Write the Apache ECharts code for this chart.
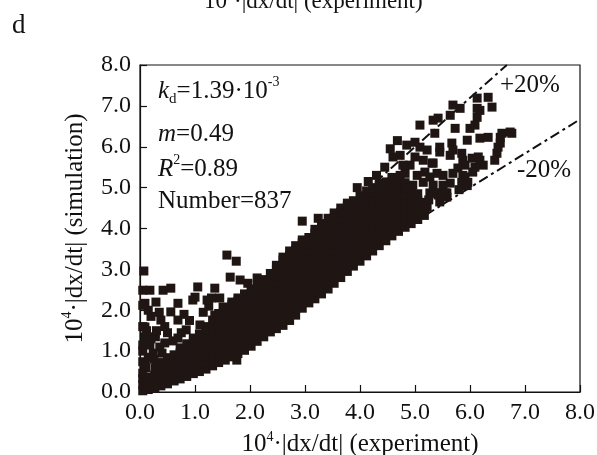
<!DOCTYPE html>
<html><head><meta charset="utf-8">
<script src="https://cdn.jsdelivr.net/npm/echarts@6/dist/echarts.min.js"></script>
<style>html,body{margin:0;padding:0;background:#fff}#c{width:597px;height:455px}</style>
</head><body><div id="c"></div><script>
// ---- data (10^4 |dx/dt|) ----
var xTicks = ['0.0','1.0','2.0','3.0','4.0','5.0','6.0','7.0','8.0'];
var yTicks = ['0.0','1.0','2.0','3.0','4.0','5.0','6.0','7.0','8.0'];

// dense core of the cloud: experiment value per column and simulated values in that column
var coreExp = [0.05,0.15,0.27,0.38,0.5,0.62,0.73,0.85,0.97,1.08,1.2,1.32,1.43,1.55,1.67,1.78,1.9,2.02,2.13,2.25,2.37,2.48,2.6,2.72,2.83,2.95,3.07,3.18,3.3,3.42,3.53,3.65,3.77,3.88,4.0,4.12,4.23,4.35,4.47,4.58,4.7,4.82,4.93,5.05,5.17];
var coreSim = [
 [0.03,0.18,0.33],
 [0.06,0.21,0.37],
 [0.1,0.26,0.42,0.58],
 [0.15,0.3,0.46,0.62,0.72],
 [0.2,0.36,0.52,0.68,0.84],
 [0.27,0.43,0.59,0.75,0.91],
 [0.32,0.48,0.64,0.8,0.96,1.08],
 [0.38,0.54,0.7,0.86,1.02,1.18],
 [0.45,0.61,0.77,0.93,1.09,1.25,1.32],
 [0.5,0.66,0.82,0.98,1.14,1.3,1.42],
 [0.56,0.72,0.88,1.04,1.2,1.36,1.52,1.6],
 [0.64,0.8,0.96,1.12,1.28,1.44,1.6,1.76],
 [0.72,0.88,1.04,1.2,1.36,1.52,1.68,1.84,1.92],
 [0.78,0.94,1.1,1.26,1.42,1.58,1.74,1.9,2.06],
 [0.86,1.02,1.18,1.34,1.5,1.66,1.82,1.98,2.14,2.2],
 [0.94,1.1,1.26,1.42,1.58,1.74,1.9,2.06,2.22,2.3],
 [1.02,1.18,1.34,1.5,1.66,1.82,1.98,2.14,2.3,2.4],
 [1.12,1.28,1.44,1.6,1.76,1.92,2.08,2.24,2.4,2.52],
 [1.24,1.4,1.56,1.72,1.88,2.04,2.2,2.36,2.52,2.62],
 [1.35,1.51,1.67,1.83,1.99,2.15,2.31,2.47,2.63,2.75],
 [1.47,1.63,1.79,1.95,2.11,2.27,2.43,2.59,2.75,2.9],
 [1.55,1.71,1.87,2.03,2.19,2.35,2.51,2.67,2.83,2.99,3.1],
 [1.63,1.79,1.95,2.11,2.27,2.43,2.59,2.75,2.91,3.07,3.23,3.3],
 [1.75,1.91,2.07,2.23,2.39,2.55,2.71,2.87,3.03,3.19,3.35,3.45],
 [1.88,2.04,2.2,2.36,2.52,2.68,2.84,3.0,3.16,3.32,3.48,3.58],
 [2.05,2.21,2.37,2.53,2.69,2.85,3.01,3.17,3.33,3.49,3.65,3.72],
 [2.18,2.34,2.5,2.66,2.82,2.98,3.14,3.3,3.46,3.62,3.78],
 [2.28,2.44,2.6,2.76,2.92,3.08,3.24,3.4,3.56,3.72,3.88,3.98],
 [2.4,2.56,2.72,2.88,3.04,3.2,3.36,3.52,3.68,3.84,4.0,4.12],
 [2.52,2.68,2.84,3.0,3.16,3.32,3.48,3.64,3.8,3.96,4.12,4.25],
 [2.66,2.82,2.98,3.14,3.3,3.46,3.62,3.78,3.94,4.1,4.26,4.38],
 [2.8,2.96,3.12,3.28,3.44,3.6,3.76,3.92,4.08,4.24,4.4,4.5],
 [2.95,3.11,3.27,3.43,3.59,3.75,3.91,4.07,4.23,4.39,4.55,4.62],
 [3.08,3.24,3.4,3.56,3.72,3.88,4.04,4.2,4.36,4.52,4.68],
 [3.2,3.36,3.52,3.68,3.84,4.0,4.16,4.32,4.48,4.64,4.8],
 [3.33,3.49,3.65,3.81,3.97,4.13,4.29,4.45,4.61,4.77,4.92],
 [3.45,3.61,3.77,3.93,4.09,4.25,4.41,4.57,4.73,4.89,5.0],
 [3.58,3.74,3.9,4.06,4.22,4.38,4.54,4.7,4.86,5.02,5.1],
 [3.7,3.86,4.02,4.18,4.34,4.5,4.66,4.82,4.98,5.14],
 [3.82,3.98,4.14,4.3,4.46,4.62,4.78,4.94,5.1,5.25],
 [3.93,4.09,4.25,4.41,4.57,4.73,4.89,5.05,5.2],
 [4.03,4.19,4.35,4.51,4.67,4.83,4.99,5.12],
 [4.12,4.28,4.44,4.6,4.76,4.92],
 [4.22,4.38,4.54,4.7,4.85],
 [4.32,4.48,4.64]
];

// scattered points over-predicted at low rates (left side)
var lowScatter = [[0.07,2.96],[0.05,2.49],[0.18,2.49],[0.42,2.49],[0.56,2.54],[1.05,2.57],[1.36,2.54],
 [0.09,2.17],[0.29,2.2],[0.69,2.17],[0.96,2.25],[1.0,2.32],[0.56,1.96],[0.05,2.12],[0.05,1.6],[0.09,1.59],
 [0.38,1.76],[0.69,1.76],[0.05,1.15],[0.18,1.15],[0.36,1.1],[0.24,0.95],[0.69,1.32],[0.84,1.52],[1.09,1.64],
 [0.96,1.08],[0.05,0.74],[0.09,0.71],[0.05,0.46],[1.76,0.78],[1.58,3.35],[1.75,3.2],[1.64,2.81],[1.82,2.74],
 [1.96,2.66],[2.13,2.79],[2.95,4.18],[3.24,4.25],[0.2,1.85],[0.15,2.0],[0.5,1.45],[0.28,1.35],[0.1,1.35],
 [0.15,0.85],[0.3,0.6],[0.05,1.0],[0.2,1.3],[0.12,1.5],[0.3,1.5],[0.25,0.8],[0.4,0.95],[0.1,0.6],[0.45,1.2],
 [0.6,1.25],[0.35,1.95],[0.45,1.6],[0.8,1.9],[0.75,1.45],[0.9,1.75],[1.15,1.95],[1.25,2.1],[1.45,2.3],[1.3,2.3],
 [1.22,2.25],[1.36,1.88],[1.51,2.08]];

// scattered points at high rates (upper right)
var highScatter = [[6.33,7.21],[6.4,6.97],[6.13,7.19],[6.13,6.94],[6.13,6.72],[6.09,6.53],[6.0,6.45],[5.82,6.94],
 [5.69,7.02],[5.64,6.77],[5.42,6.7],[5.33,6.65],[5.09,6.53],[5.73,6.45],[5.67,6.09],[5.95,6.16],[6.18,6.21],
 [6.33,6.23],[6.55,6.23],[6.76,6.33],[6.55,6.09],[6.49,5.84],[5.36,6.33],[4.85,6.04],[5.0,6.11],[5.09,5.99],
 [5.22,5.92],[5.45,5.87],[5.64,5.79],[5.85,5.84],[6.04,5.72],[6.15,5.75],[6.24,5.55],[6.09,5.5],[5.91,5.55],
 [5.78,5.48],[5.69,5.35],[5.87,5.3],[6.05,5.38],[5.96,5.13],[5.85,5.13],[5.51,5.3],[5.4,5.35],[5.31,5.6],
 [5.15,5.67],[5.0,5.75],[4.91,5.55],[4.82,5.35],[5.04,5.3],[5.18,5.38],[5.51,5.06],[5.36,4.87],[5.55,4.87],
 [5.27,5.26],[5.33,5.06],[5.27,4.87],[5.42,4.82],[5.58,4.87],[5.64,5.11],[5.91,5.26],[6.18,6.89],[5.87,5.67],
 [5.69,5.92],[5.45,5.99],[5.33,5.6],[6.18,5.67],[6.45,5.67],[6.51,5.99],[5.4,4.87],[5.58,4.77],[5.22,4.52],
 [5.8,4.95],[5.95,5.05],[4.73,5.79],[4.78,5.55],[4.73,5.3],[4.96,5.06],[5.15,5.13],[4.85,4.99],[4.45,5.5],
 [4.6,5.75],[4.3,5.3],[4.15,5.15],[3.95,5.0],[4.55,5.95],[4.68,6.15],[6.73,6.36],[6.58,6.33],[5.25,4.7],
 [5.45,4.65],[5.1,4.45],[4.2,3.5]];

// +20% and -20% deviation lines (end points)
var plus20 = [[0,0],[6.67,8]];
var minus20 = [[0,0],[8,6.67]];

var annotKd = '1.39';
var annotM = '0.49';
var annotR2 = '0.89';
var annotN = '837';

// ---- build ----
var FONT = 'Liberation Serif';
var INK = '#1f1614';
var pts = [];
coreExp.forEach(function (x, i) { coreSim[i].forEach(function (y) { pts.push([x, y]); }); });
lowScatter.forEach(function (p) { pts.push(p); });
highScatter.forEach(function (p) { pts.push(p); });

var chart = echarts.init(document.getElementById('c'), null, {renderer: 'canvas'});
var supRich = {
  sup: {fontSize: 14, fontFamily: FONT, color: '#111', verticalAlign: 'top', lineHeight: 22}
};
function axisCommon(ticks) {
  return {
    type: 'value', min: 0, max: 8, interval: 1,
    axisLine: {show: true, lineStyle: {color: '#111', width: 1.2}},
    axisTick: {show: true, inside: true, length: 7, lineStyle: {color: '#111', width: 1.2}},
    splitLine: {show: false},
    axisLabel: {fontFamily: FONT, fontSize: 24, color: '#111', margin: 9,
      formatter: function (v) { return ticks[Math.round(v)]; }},
    nameLocation: 'middle',
    nameTextStyle: {fontFamily: FONT, fontSize: 25, color: '#111', lineHeight: 30, rich: supRich}
  };
}
var xa = axisCommon(xTicks);
xa.name = '10{sup|4}·|dx/dt| (experiment)';
xa.nameGap = 33;
var ya = axisCommon(yTicks);
ya.name = '10{sup|4}·|dx/dt| (simulation)';
ya.nameGap = 48;
ya.nameRotate = 90;

function gtext(x, y, text, extra) {
  var st = {text: text, fontFamily: FONT, fontSize: 25, fill: '#111', lineHeight: 32,
    align: 'left', verticalAlign: 'middle', rich: {
      sup: {fontSize: 14, fontFamily: FONT, fill: '#111', verticalAlign: 'top', lineHeight: 22},
      sub: {fontSize: 15, fontFamily: FONT, fill: '#111', verticalAlign: 'bottom', lineHeight: 6},
      i: {fontSize: 25, fontFamily: FONT, fill: '#111', fontStyle: 'italic', lineHeight: 32}
    }};
  if (extra) for (var k in extra) st[k] = extra[k];
  return {type: 'text', x: x, y: y, z: 100, style: st};
}

chart.setOption({
  animation: false,
  backgroundColor: '#fff',
  grid: {left: 140, right: 17, top: 65, bottom: 63, show: true, borderColor: '#111', borderWidth: 1.2,
    containLabel: false, outerBoundsMode: 'none'},
  xAxis: xa,
  yAxis: ya,
  series: [
    {type: 'line', data: plus20, symbol: 'none', z: 1,
      lineStyle: {color: '#111', width: 2, type: [10, 4, 3, 4]}},
    {type: 'line', data: minus20, symbol: 'none', z: 1,
      lineStyle: {color: '#111', width: 2, type: [10, 4, 3, 4]}},
    {type: 'scatter', data: pts, symbol: 'rect', symbolSize: 9, z: 2,
      itemStyle: {color: INK, opacity: 1}}
  ],
  graphic: [
    gtext(204, 2, '10{sup|4}·|dx/dt| (experiment)', {fontSize: 23}),
    gtext(12, 26, 'd', {fontSize: 27}),
    gtext(158, 91, '{i|k}{sub|d}=' + annotKd + '·10{sup|-3}'),
    gtext(158, 134, '{i|m}=' + annotM),
    gtext(158, 169, '{i|R}{sup|2}=' + annotR2),
    gtext(158, 201, 'Number=' + annotN),
    gtext(500, 85, '+20%'),
    gtext(517, 170, '-20%')
  ]
});
</script></body></html>
